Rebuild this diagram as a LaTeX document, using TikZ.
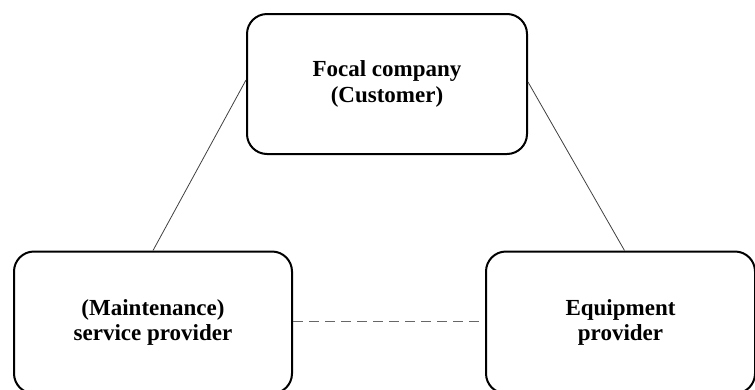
\documentclass[tikz,border=0pt]{standalone}
\usepackage{fontspec}
\setmainfont{Liberation Serif}
\usepackage{tikz}

\begin{document}
\begin{tikzpicture}[x=1pt,y=-1pt,
            party/.style={shape=rectangle, rounded corners=20pt, draw, line width=2pt, align=center, inner sep=0pt,
                font=\fontsize{23}{25.5}\selectfont\bfseries},
            link/.style={draw=black!75, line width=0.8pt},
            weaklink/.style={draw=black!60, line width=1.8pt, dash pattern=on 10pt off 6pt}]
        \useasboundingbox (0,0) rectangle (755,389);

        \node[party, minimum width=280pt, minimum height=140pt] (focal) at (387,84) {Focal company\\(Customer)};
        \node[party, minimum width=278pt, minimum height=142pt] (service) at (153,322.5) {(Maintenance)\\service provider};
        \node[party, minimum width=269pt, minimum height=142pt] (equipment) at (620.5,322.5) {Equipment\\provider};

        \draw[link] ([yshift=4pt]focal.west) -- (service.north);
        \draw[link] ([yshift=2pt]focal.east) -- ([xshift=4pt]equipment.north);
        \draw[weaklink] ([yshift=1pt]service.east) -- ([yshift=1pt]equipment.west);
\end{tikzpicture}
\end{document}
